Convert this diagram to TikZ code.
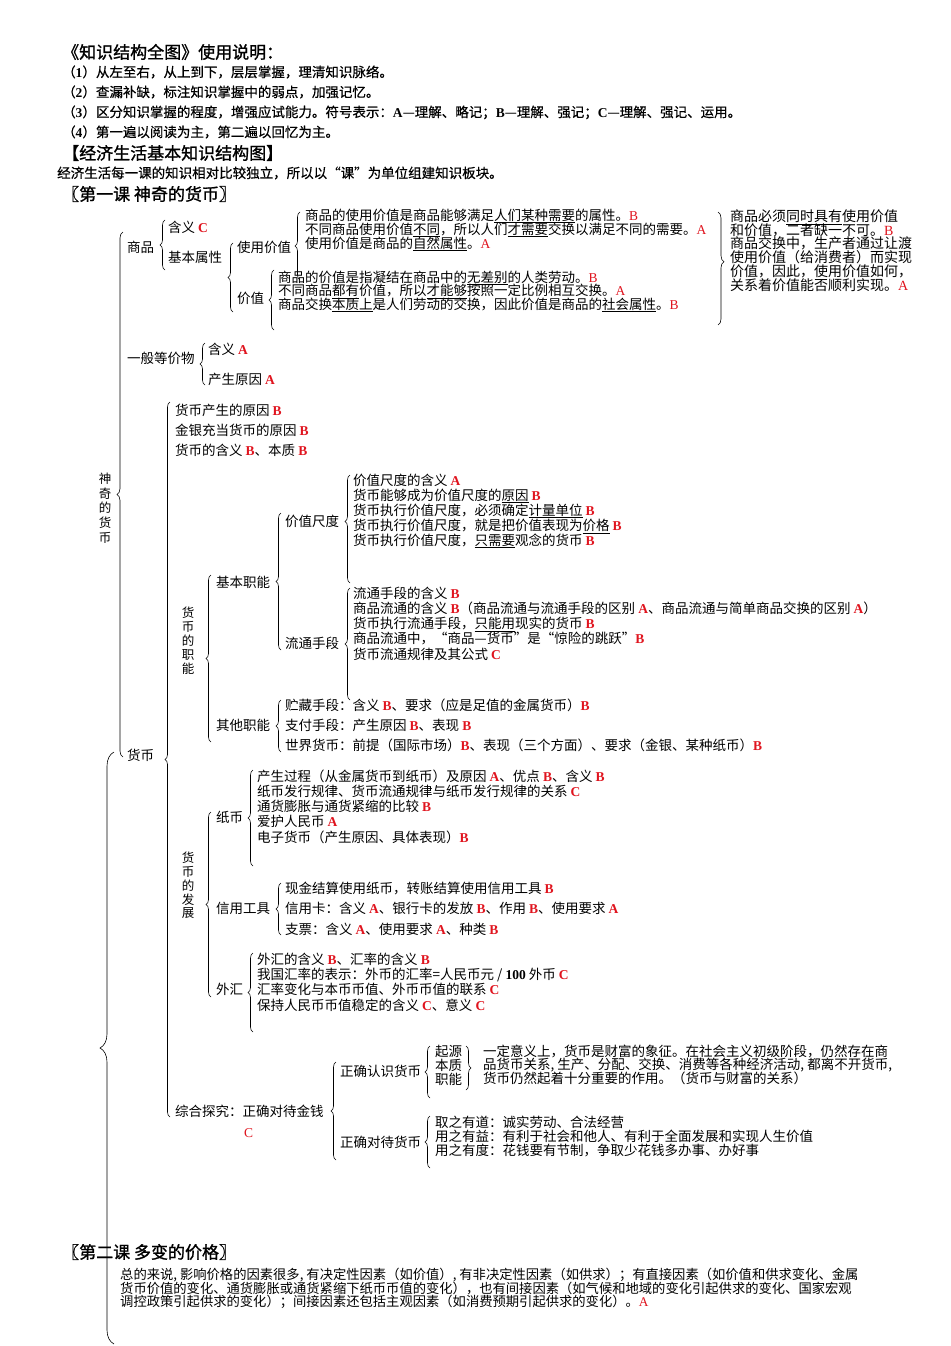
\documentclass[tikz,border=0pt]{standalone}
\usepackage{fontspec}
\setmainfont{Noto Sans CJK SC}
\newfontfamily\headfont[FakeBold=1.2]{Noto Sans CJK SC}
\newfontfamily\stepfont[FakeBold=0.5]{Noto Sans CJK SC}
\newfontfamily\serifletters{Liberation Serif}
\usepackage{xcolor}
\usetikzlibrary{decorations.pathreplacing, positioning}
\definecolor{gradered}{HTML}{E0141E}
\newcommand{\setsz}[2]{\fontsize{#1}{#2}\selectfont\lineskiplimit=-50pt\relax}
\newcommand{\grade}[1]{\textcolor{gradered}{\serifletters\bfseries #1}}
\newcommand{\gradelt}[1]{\textcolor{gradered}{\serifletters #1}}
\newcommand{\ltr}[1]{{\serifletters\bfseries #1}}

\begin{document}
\begin{tikzpicture}[x=1pt, y=-1pt,
  txt/.style={anchor=west, inner sep=0pt, align=left, font=\setsz{13.5}{#1}},
  txt/.default=14,
  vtxt/.style={anchor=center, inner sep=0pt, align=center, font=\setsz{12.5}{#1}},
  title/.style={anchor=west, inner sep=0pt, font=\headfont\setsz{17}{20}},
  brc/.style={decorate, decoration={brace, amplitude=#1}, line width=0.6pt},
  brc/.default=5pt
]
  \useasboundingbox (0, 0) rectangle (950, 1346);
  \fill[white] (0, 0) rectangle (950, 1346);

  % Header
  \node[title] (guide) at (62, 52) {《知识结构全图》使用说明：};
  \node[txt=20, font=\stepfont\setsz{13.5}{20}] (steps) at (62, 102) {（\ltr{1}）从左至右，从上到下，层层掌握，理清知识脉络。\\
    （\ltr{2}）查漏补缺，标注知识掌握中的弱点，加强记忆。\\
    （\ltr{3}）区分知识掌握的程度，增强应试能力。符号表示：\ltr{A}—理解、略记；\ltr{B}—理解、强记；\ltr{C}—理解、强记、运用。\\
    （\ltr{4}）第一遍以阅读为主，第二遍以回忆为主。};
  \node[title] (maptitle) at (62, 153) {【经济生活基本知识结构图】};
  \node[txt, font=\stepfont\setsz{13.5}{14}] (intro) at (57, 173) {经济生活每一课的知识相对比较独立，所以以“课”为单位组建知识板块。};
  \node[title] (lesson1) at (62, 194) {〖第一课 神奇的货币〗};

  % Lesson 1: root
  \node[vtxt=14.7] (magic) at (105, 508) {神\\奇\\的\\货\\币};
  \draw[brc=6pt] (123, 757) -- (123, 232);

  % Goods
  \node[txt] (goods) at (127, 247) {商品};
  \draw[brc] (165, 270) -- (165, 220);
  \node[txt] (gmean) at (168, 227) {含义 \grade{C}};
  \node[txt] (gattr) at (168, 257) {基本属性};
  \draw[brc] (233, 312) -- (233, 243);
  \node[txt] (usev) at (237, 247) {使用价值};
  \node[txt] (val) at (237, 298) {价值};
  \draw[brc] (300, 280) -- (300, 212);
  \node[txt=14] (usevitems) at (305, 230) {商品的使用价值是商品能够满足\underline{人们某种需要}的属性。\gradelt{B}\\
    不同商品使用价值\underline{不同}，所以人们\underline{才需要}交换以满足不同的需要。\gradelt{A}\\
    使用价值是商品的\underline{自然属性}。\gradelt{A}};
  \draw[brc] (274, 330) -- (274, 270);
  \node[txt=13.5] (valitems) at (278, 291.5) {商品的价值是指凝结在商品中的\underline{无差别}的人类劳动。\gradelt{B}\\
    不同商品\underline{都有}价值，所以\underline{才能够}按照一定比例相互交换。\gradelt{A}\\
    商品交换\underline{本质上}是人们劳动的交换，因此价值是商品的\underline{社会属性}。\gradelt{B}};
  \draw[brc=6pt, decoration={aspect=0.44}] (718, 212) -- (718, 325);
  \node[txt, font=\setsz{14}{13.8}] (bothitems) at (730, 250.5) {商品必须\underline{同时具有}使用价值\\
    和价值，二者缺一不可。\gradelt{B}\\
    商品交换中，生产者通过让渡\\
    使用价值（给消费者）而实现\\
    价值，因此，使用价值如何，\\
    关系着价值能否顺利实现。\gradelt{A}};

  % General equivalent
  \node[txt] (equiv) at (127, 358) {一般等价物};
  \draw[brc] (205, 385) -- (205, 343);
  \node[txt=30] (equivitems) at (208, 364) {含义 \grade{A}\\产生原因 \grade{A}};

  % Money
  \node[txt] (money) at (127, 755) {货币};
  \draw[brc] (170, 1117) -- (170, 402);
  \node[txt=20] (moneyitems) at (175, 430) {货币产生的原因 \grade{B}\\
    金银充当货币的原因 \grade{B}\\
    货币的含义 \grade{B}、本质 \grade{B}};

  % Functions of money
  \node[vtxt=13.9] (func) at (188, 641) {货\\币\\的\\职\\能};
  \draw[brc] (211, 742) -- (211, 575);
  \node[txt] (basic) at (216, 582) {基本职能};
  \draw[brc] (281, 650) -- (281, 513);
  \node[txt] (measure) at (285, 521) {价值尺度};
  \draw[brc, decoration={aspect=0.57}] (350, 583) -- (350, 475);
  \node[txt=15] (measureitems) at (353, 511) {价值尺度的含义 \grade{A}\\
    货币能够成为价值尺度的\underline{原因} \grade{B}\\
    货币执行价值尺度，必须确定\underline{计量单位} \grade{B}\\
    货币执行价值尺度，就是把价值表现为\underline{价格} \grade{B}\\
    货币执行价值尺度，\underline{只需要}观念的货币 \grade{B}};
  \node[txt] (circ) at (285, 643) {流通手段};
  \draw[brc] (350, 700) -- (350, 588);
  \node[txt=15.25] (circitems) at (353, 623.5) {流通手段的含义 \grade{B}\\
    商品流通的含义 \grade{B}（商品流通与流通手段的区别 \grade{A}、商品流通与简单商品交换的区别 \grade{A}）\\
    货币执行流通手段，\underline{只能用}现实的货币 \grade{B}\\
    商品流通中，“商品—货币”是“惊险的跳跃”\grade{B}\\
    货币流通规律及其公式 \grade{C}};
  \node[txt] (other) at (216, 725) {其他职能};
  \draw[brc] (281, 752) -- (281, 700);
  \node[txt=20] (otheritems) at (285, 725) {贮藏手段：含义 \grade{B}、要求（应是足值的金属货币）\grade{B}\\
    支付手段：产生原因 \grade{B}、表现 \grade{B}\\
    世界货币：前提（国际市场）\grade{B}、表现（三个方面）、要求（金银、某种纸币）\grade{B}};

  % Development of money
  \node[vtxt=13.75] (devel) at (188, 885.5) {货\\币\\的\\发\\展};
  \draw[brc] (211, 997) -- (211, 812);
  \node[txt] (paper) at (216, 817) {纸币};
  \draw[brc] (253, 866) -- (253, 770);
  \node[txt=15.25] (paperitems) at (257, 806.5) {产生过程（从金属货币到纸币）及原因 \grade{A}、优点 \grade{B}、含义 \grade{B}\\
    纸币发行规律、货币流通规律与纸币发行规律的关系 \grade{C}\\
    通货膨胀与通货紧缩的比较 \grade{B}\\
    爱护人民币 \grade{A}\\
    电子货币（产生原因、具体表现）\grade{B}};
  \node[txt] (credit) at (216, 908) {信用工具};
  \draw[brc] (281, 935) -- (281, 883);
  \node[txt=20.5] (credititems) at (285, 908.5) {现金结算使用纸币，转账结算使用信用工具 \grade{B}\\
    信用卡：含义 \grade{A}、银行卡的发放 \grade{B}、作用 \grade{B}、使用要求 \grade{A}\\
    支票：含义 \grade{A}、使用要求 \grade{A}、种类 \grade{B}};
  \node[txt] (forex) at (216, 989) {外汇};
  \draw[brc] (253, 1032) -- (253, 953);
  \node[txt=15.33] (forexitems) at (257, 982) {外汇的含义 \grade{B}、汇率的含义 \grade{B}\\
    我国汇率的表示：外币的汇率=人民币元 / \ltr{100} 外币 \grade{C}\\
    汇率变化与本币币值、外币币值的联系 \grade{C}\\
    保持人民币币值稳定的含义 \grade{C}、意义 \grade{C}};

  % Comprehensive inquiry
  \node[txt] (inquiry) at (175, 1111) {综合探究：正确对待金钱};
  \node[txt] (inquirygrade) at (244, 1133) {\gradelt{C}};
  \draw[brc] (336, 1160) -- (336, 1062);
  \node[txt] (know) at (340, 1071) {正确认识货币};
  \draw[brc] (430, 1098) -- (430, 1046);
  \node[txt=14] (aspects) at (435, 1065) {起源\\本质\\职能};
  \draw[brc] (466, 1046) -- (466, 1090);
  \node[txt=13.5] (wealth) at (483, 1064.5) {一定意义上，货币是财富的象征。在社会主义初级阶段，仍然存在商\\
    品货币关系, 生产、分配、交换、消费等各种经济活动, 都离不开货币,\\
    货币仍然起着十分重要的作用。（货币与财富的关系）};
  \node[txt] (treat) at (340, 1142) {正确对待货币};
  \draw[brc] (430, 1168) -- (430, 1116);
  \node[txt=14] (treatitems) at (435, 1136) {取之有道：诚实劳动、合法经营\\
    用之有益：有利于社会和他人、有利于全面发展和实现人生价值\\
    用之有度：花钱要有节制，争取少花钱多办事、办好事};

  % Lesson 2
  \draw[brc=14pt] (114, 1344) -- (114, 752);
  \node[title] (lesson2) at (62, 1252) {〖第二课 多变的价格〗};
  \node[txt, font=\setsz{13.3}{13.5}] (factors) at (120, 1288.5) {总的来说, 影响价格的因素很多, 有决定性因素（如价值）, 有非决定性因素（如供求）；有直接因素（如价值和供求变化、金属\\
    货币价值的变化、通货膨胀或通货紧缩下纸币币值的变化），也有间接因素（如气候和地域的变化引起供求的变化、国家宏观\\
    调控政策引起供求的变化）；间接因素还包括主观因素（如消费预期引起供求的变化）。\gradelt{A}};
\end{tikzpicture}
\end{document}
